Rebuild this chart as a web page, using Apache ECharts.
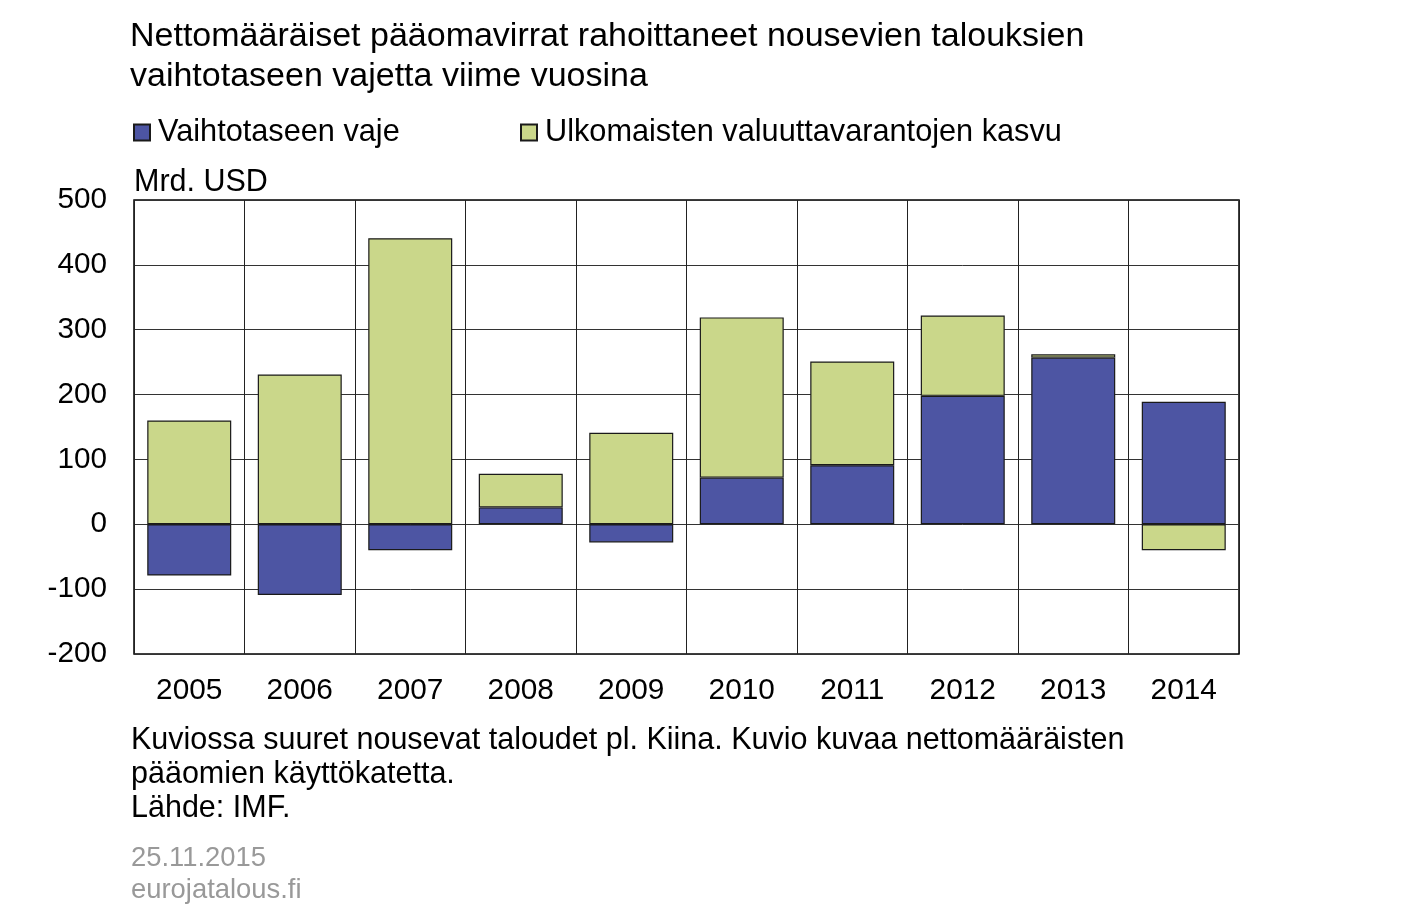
<!DOCTYPE html>
<html><head><meta charset="utf-8">
<script src="https://cdn.jsdelivr.net/npm/echarts@6/dist/echarts.min.js"></script>
<style>html,body{margin:0;padding:0;background:#fff}#c{width:1407px;height:919px}</style>
</head><body><div id="c"></div>
<script>
const categories = ['2005','2006','2007','2008','2009','2010','2011','2012','2013','2014'];
const vaihtotaseenVaje = [-79, -109, -40, 26, -28, 72, 91, 198, 257, 189];
const valuuttavarannot = [160, 231, 441, 52, 141, 247, 160, 124, 5, -40];
const yTicks = [-200, -100, 0, 100, 200, 300, 400, 500];
const seriesNames = ['Vaihtotaseen vaje', 'Ulkomaisten valuuttavarantojen kasvu'];

const FONT = '"Liberation Sans", Arial, sans-serif';
const chart = echarts.init(document.getElementById('c'));
chart.setOption({
  animation: false,
  textStyle: { fontFamily: FONT },
  title: [
    { text: 'Nettomääräiset pääomavirrat rahoittaneet nousevien talouksien\nvaihtotaseen vajetta viime vuosina',
      left: 125, top: 12, textStyle: { fontSize: 34, fontWeight: 'normal', color: '#000', lineHeight: 40, fontFamily: FONT } },
    { text: 'Mrd. USD', left: 129, top: 162, textStyle: { fontSize: 30.5, fontWeight: 'normal', color: '#000', fontFamily: FONT } },
    { text: 'Kuviossa suuret nousevat taloudet pl. Kiina. Kuvio kuvaa nettomääräisten\npääomien käyttökatetta.\nLähde: IMF.',
      left: 126, top: 719, textStyle: { fontSize: 30.5, fontWeight: 'normal', color: '#000', lineHeight: 34, fontFamily: FONT } },
    { text: '25.11.2015\neurojatalous.fi', left: 126, top: 837, textStyle: { fontSize: 27.4, fontWeight: 'normal', color: '#999', lineHeight: 32, fontFamily: FONT } }
  ],
  legend: [
    { data: [seriesNames[0]], left: 128, top: 112, icon: 'rect', itemWidth: 16, itemHeight: 16, itemGap: 6,
      textStyle: { fontSize: 30.7, color: '#000', fontFamily: FONT, padding: [0,0,0,3] } },
    { data: [seriesNames[1]], left: 515, top: 112, icon: 'rect', itemWidth: 16, itemHeight: 16, itemGap: 6,
      textStyle: { fontSize: 30.7, color: '#000', fontFamily: FONT, padding: [0,0,0,3] } }
  ],
  grid: { left: 134, right: 168, top: 200, bottom: 265, show: true, borderColor: '#000', borderWidth: 1.5, containLabel: false },
  xAxis: {
    type: 'category', data: categories,
    axisLine: { show: false }, axisTick: { show: false },
    axisLabel: { fontSize: 29.8, color: '#000', margin: 22, fontFamily: FONT },
    splitLine: { show: true, lineStyle: { color: '#222', width: 1 } }
  },
  yAxis: {
    type: 'value', min: -200, max: 500, interval: 100,
    axisLine: { show: false }, axisTick: { show: false },
    axisLabel: { fontSize: 29.7, color: '#000', margin: 27, fontFamily: FONT, padding: [4,0,0,0],
      formatter: v => yTicks.includes(v) ? String(v) : '' },
    splitLine: { show: true, lineStyle: { color: '#333', width: 1 } }
  },
  series: [
    { name: seriesNames[0], type: 'bar', stack: 's', data: vaihtotaseenVaje, barWidth: '76%',
      itemStyle: { color: '#4d55a3', borderColor: '#1a1a1a', borderWidth: 1.2 } },
    { name: seriesNames[1], type: 'bar', stack: 's', data: valuuttavarannot, barWidth: '76%',
      itemStyle: { color: '#cad78a', borderColor: '#1a1a1a', borderWidth: 1.2 } }
  ]
});
</script></body></html>
